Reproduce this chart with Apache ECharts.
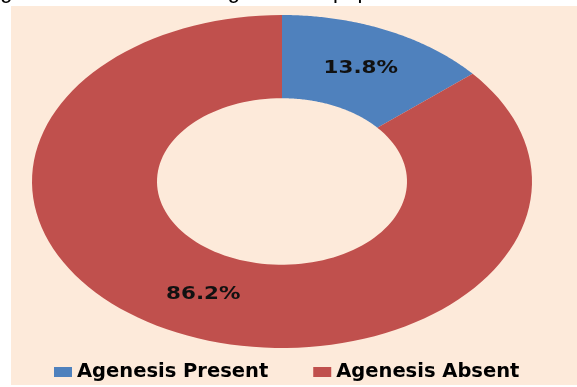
<!DOCTYPE html>
<html>
<head>
<meta charset="utf-8">
<script src="https://cdn.jsdelivr.net/npm/echarts@6/dist/echarts.min.js"></script>
<style>
  html, body { margin: 0; padding: 0; background: #ffffff; }
  #chart { width: 577px; height: 387px; }
</style>
</head>
<body>
<div id="chart"></div>
<script>
// Share of the population with and without agenesis (percent)
const categories = ['Agenesis Present', 'Agenesis Absent'];
const values = [13.8, 86.2];
const colors = ['#4F81BD', '#C0504D'];
const captionText = 'Figure 1: Distribution of agenesis in population';

const total = values.reduce((a, b) => a + b, 0);
const INNER = 0.5;      // hole radius relative to the outer ring
const LABEL_R = 0.75;   // where the percentage labels sit

// Start / end angle (clockwise from 12 o'clock, radians) for each slice
const slices = [];
let acc = 0;
values.forEach(v => {
  const a0 = acc / total * Math.PI * 2;
  acc += v;
  slices.push([a0, acc / total * Math.PI * 2]);
});

function ringPoint(api, r, a) {
  return api.coord([r * Math.sin(a), r * Math.cos(a)]);
}

function makeRender(idx) {
  return function (params, api) {
    const [a0, a1] = slices[idx];
    const steps = 120;
    const pts = [];
    for (let i = 0; i <= steps; i++) {
      pts.push(ringPoint(api, 1, a0 + (a1 - a0) * i / steps));
    }
    for (let i = steps; i >= 0; i--) {
      pts.push(ringPoint(api, INNER, a0 + (a1 - a0) * i / steps));
    }
    const mid = (a0 + a1) / 2;
    const lp = ringPoint(api, LABEL_R, mid);
    return {
      type: 'group',
      children: [
        {
          type: 'polygon',
          shape: { points: pts },
          style: { fill: api.visual('color') }
        },
        {
          type: 'text',
          x: lp[0],
          y: lp[1],
          scaleX: 1.19,
          style: {
            text: values[idx].toFixed(1) + '%',
            fill: '#111111',
            font: 'bold 18px "DejaVu Sans"',
            align: 'center',
            verticalAlign: 'middle'
          }
        }
      ]
    };
  };
}

const chart = echarts.init(document.getElementById('chart'), null, { renderer: 'canvas' });

chart.setOption({
  animation: false,
  backgroundColor: '#ffffff',
  color: colors,
  graphic: [
    {
      type: 'text',
      left: -18,
      top: -19,
      z: 0,
      style: {
        text: captionText,
        font: '22px "Liberation Sans"',
        fill: '#000000'
      }
    },
    {
      type: 'rect',
      shape: { x: 11, y: 6, width: 566, height: 379 },
      style: { fill: '#FDEADA' },
      z: -10
    }
  ],
  grid: { left: 32, right: 45, top: 15, bottom: 39 },
  xAxis: { type: 'value', min: -1, max: 1, show: false },
  yAxis: { type: 'value', min: -1, max: 1, show: false },
  legend: {
    left: 54,
    top: 362,
    padding: 0,
    itemWidth: 18,
    itemHeight: 10,
    itemGap: 45,
    icon: 'rect',
    data: categories,
    textStyle: {
      color: '#000000',
      fontFamily: 'DejaVu Sans',
      fontWeight: 'bold',
      fontSize: 19.5,
      padding: [0, 0, 0, 0]
    }
  },
  series: categories.map((name, idx) => ({
    type: 'custom',
    name: name,
    renderItem: makeRender(idx),
    data: [[0, 0]],
    clip: false,
    silent: true
  }))
});
</script>
</body>
</html>
